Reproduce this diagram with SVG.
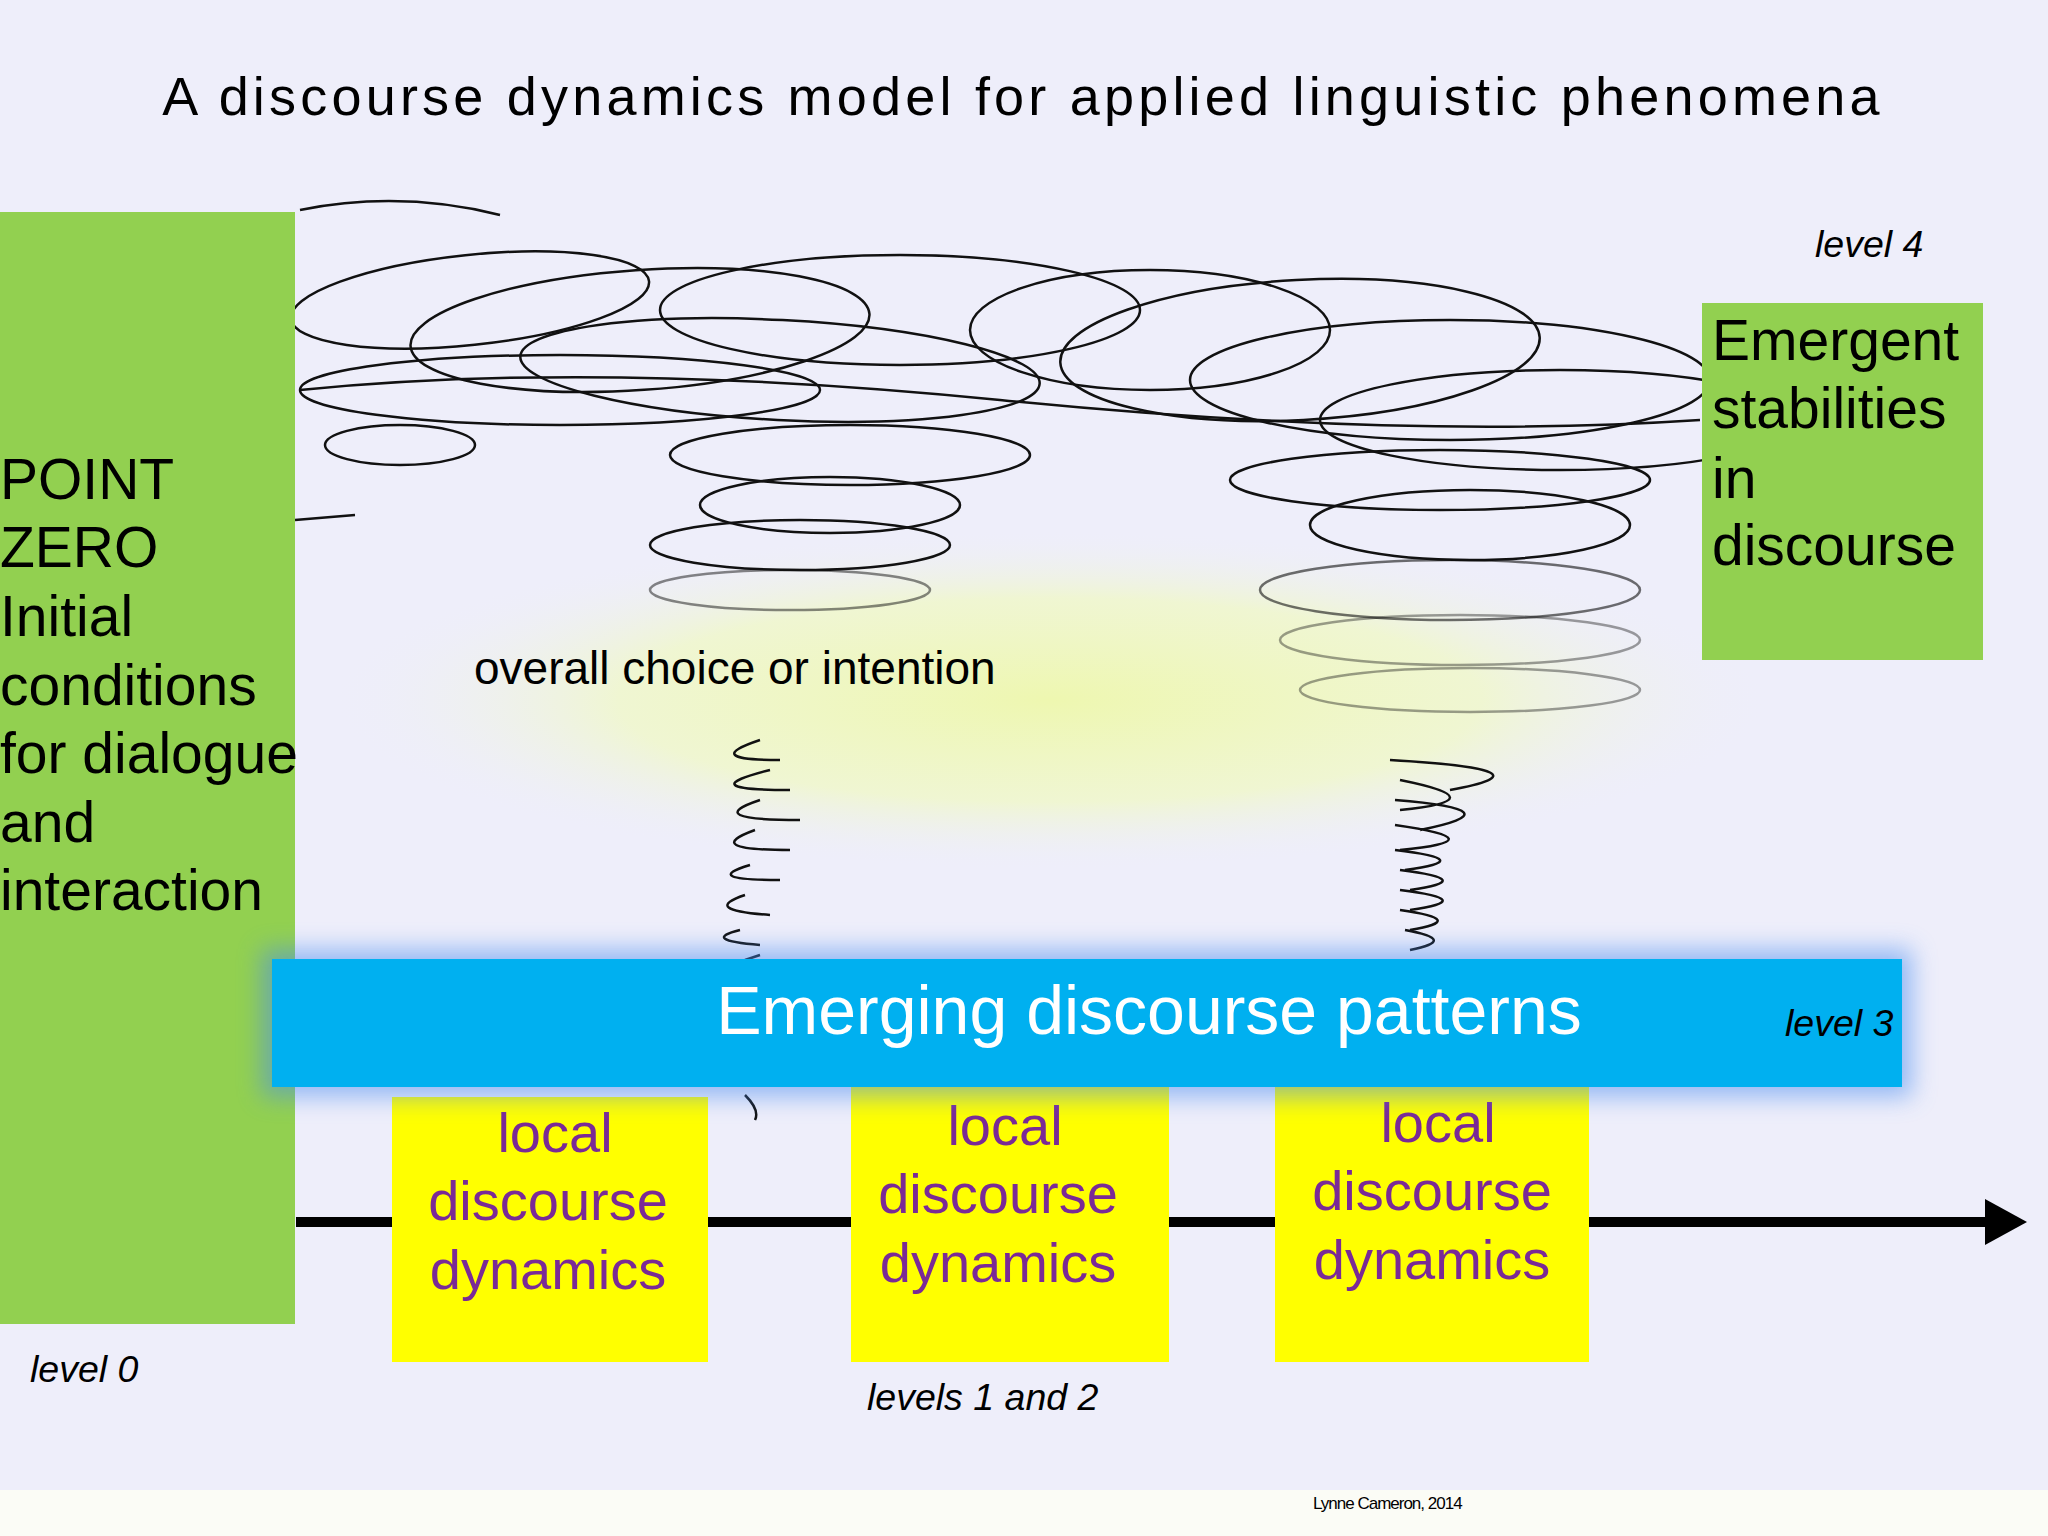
<svg xmlns="http://www.w3.org/2000/svg" width="2048" height="1536" viewBox="0 0 2048 1536">
<defs>
<style>
.t{font-family:"Liberation Sans",Arial,sans-serif;}
.lt{font-size:57px;fill:#000}
.y{font-size:56px;fill:#7a2a96;text-anchor:middle}
.it{font-size:37.5px;font-style:italic;fill:#000}
.sc{fill:none;stroke:#111;stroke-width:2.5}
</style>
<radialGradient id="glow" cx="0.5" cy="0.5" r="0.5">
<stop offset="0" stop-color="#eef7b0"/><stop offset="0.6" stop-color="#f0f8c8" stop-opacity="0.8"/><stop offset="1" stop-color="#eeeefa" stop-opacity="0"/>
</radialGradient>
<filter id="blur" x="-10%" y="-30%" width="120%" height="160%"><feGaussianBlur stdDeviation="12"/></filter>
<marker id="ah" markerWidth="4.2" markerHeight="4.6" refX="0.5" refY="2.3" orient="auto"><path d="M0,0 L4.2,2.3 L0,4.6 z" fill="#000"/></marker>
</defs>
<rect width="2048" height="1536" fill="#eeeefa"/>
<rect y="1490" width="2048" height="46" fill="#fbfcf6"/>
<ellipse cx="1050" cy="700" rx="720" ry="170" fill="url(#glow)"/>
<g id="scribbles">
<path class="sc" d="M300,210 Q400,190 500,215"/>
<ellipse class="sc" cx="470" cy="300" rx="180" ry="45" transform="rotate(-6 470 300)"/>
<ellipse class="sc" cx="640" cy="330" rx="230" ry="60" transform="rotate(-4 640 330)"/>
<ellipse class="sc" cx="900" cy="310" rx="240" ry="55"/>
<ellipse class="sc" cx="780" cy="370" rx="260" ry="50" transform="rotate(3 780 370)"/>
<ellipse class="sc" cx="1150" cy="330" rx="180" ry="60"/>
<ellipse class="sc" cx="1300" cy="350" rx="240" ry="70" transform="rotate(-3 1300 350)"/>
<ellipse class="sc" cx="1450" cy="380" rx="260" ry="60"/>
<ellipse class="sc" cx="1560" cy="420" rx="240" ry="50"/>
<ellipse class="sc" cx="560" cy="390" rx="260" ry="35"/>
<ellipse class="sc" cx="400" cy="445" rx="75" ry="20"/>
<ellipse class="sc" cx="850" cy="455" rx="180" ry="30"/>
<ellipse class="sc" cx="830" cy="505" rx="130" ry="28"/>
<ellipse class="sc" cx="800" cy="545" rx="150" ry="25"/>
<ellipse class="sc" cx="790" cy="590" rx="140" ry="20" stroke-opacity="0.5"/>
<ellipse class="sc" cx="1440" cy="480" rx="210" ry="30"/>
<ellipse class="sc" cx="1470" cy="525" rx="160" ry="35"/>
<ellipse class="sc" cx="1450" cy="590" rx="190" ry="30" stroke-opacity="0.6"/>
<ellipse class="sc" cx="1460" cy="640" rx="180" ry="25" stroke-opacity="0.4"/>
<ellipse class="sc" cx="1470" cy="690" rx="170" ry="22" stroke-opacity="0.4"/>
<path class="sc" d="M300,390 Q600,360 1000,400 T1700,420"/>
<path class="sc" d="M295,520 L355,515"/>
<path class="sc" stroke-width="4" d="M760,740 Q700,760 780,760 M770,770 Q690,790 790,790 M760,800 Q700,820 800,820 M755,830 Q700,850 790,850 M750,865 Q700,880 780,880 M745,895 Q700,910 770,915 M740,930 Q700,940 760,945 M745,960 L760,955 M745,1095 Q760,1110 755,1120"/>
<path class="sc" stroke-width="4" d="M1390,760 Q1560,770 1450,790 M1400,780 Q1500,800 1400,810 M1395,800 Q1520,810 1420,830 M1395,825 Q1500,840 1400,850 M1395,850 Q1480,860 1405,870 M1400,870 Q1480,880 1410,890 M1400,890 Q1480,900 1410,910 M1400,910 Q1470,920 1410,930 M1405,930 Q1460,940 1410,950"/>
</g>
<text class="t" x="1023" y="115" font-size="54" text-anchor="middle" letter-spacing="4.2">A discourse dynamics model for applied linguistic phenomena</text>
<g id="point-zero">
<rect x="0" y="212" width="295" height="1112" fill="#92d050"/>
<text class="t lt"><tspan x="0" y="499">POINT</tspan><tspan x="0" y="567">ZERO</tspan><tspan x="0" y="636">Initial</tspan><tspan x="0" y="705">conditions</tspan><tspan x="0" y="773">for dialogue</tspan><tspan x="0" y="842">and</tspan><tspan x="0" y="910">interaction</tspan></text>
</g>
<g id="emergent">
<rect x="1702" y="303" width="281" height="357" fill="#92d050"/>
<text class="t lt"><tspan x="1712" y="360">Emergent</tspan><tspan x="1712" y="428">stabilities</tspan><tspan x="1712" y="498">in</tspan><tspan x="1712" y="565">discourse</tspan></text>
</g>
<text class="t it" x="1815" y="257">level 4</text>
<text class="t" x="474" y="684" font-size="46">overall choice or intention</text>
<g id="connectors">
<line x1="296" y1="1222" x2="1990" y2="1222" stroke="#000" stroke-width="10" marker-end="url(#ah)"/>
</g>
<g id="local1"><rect x="392" y="1097" width="316" height="265" fill="#ffff00"/>
<text class="t y"><tspan x="555" y="1152">local</tspan><tspan x="548" y="1220">discourse</tspan><tspan x="548" y="1289">dynamics</tspan></text></g>
<g id="local2"><rect x="851" y="1087" width="318" height="275" fill="#ffff00"/>
<text class="t y"><tspan x="1005" y="1145">local</tspan><tspan x="998" y="1213">discourse</tspan><tspan x="998" y="1282">dynamics</tspan></text></g>
<g id="local3"><rect x="1275" y="1087" width="314" height="275" fill="#ffff00"/>
<text class="t y"><tspan x="1438" y="1142">local</tspan><tspan x="1432" y="1210">discourse</tspan><tspan x="1432" y="1279">dynamics</tspan></text></g>
<g id="patterns">
<rect x="262" y="949" width="1650" height="148" fill="#4a8cf0" opacity="0.55" filter="url(#blur)"/>
<rect x="272" y="959" width="1630" height="128" fill="#00b0f0"/>
<text class="t" x="1149" y="1034" font-size="68" fill="#fff" text-anchor="middle">Emerging discourse patterns</text>
<text class="t it" x="1785" y="1036">level 3</text>
</g>
<text class="t it" x="30" y="1382">level 0</text>
<text class="t it" x="867" y="1410">levels 1 and 2</text>
<text class="t" x="1313" y="1509" font-size="17" letter-spacing="-1">Lynne Cameron, 2014</text>
</svg>
